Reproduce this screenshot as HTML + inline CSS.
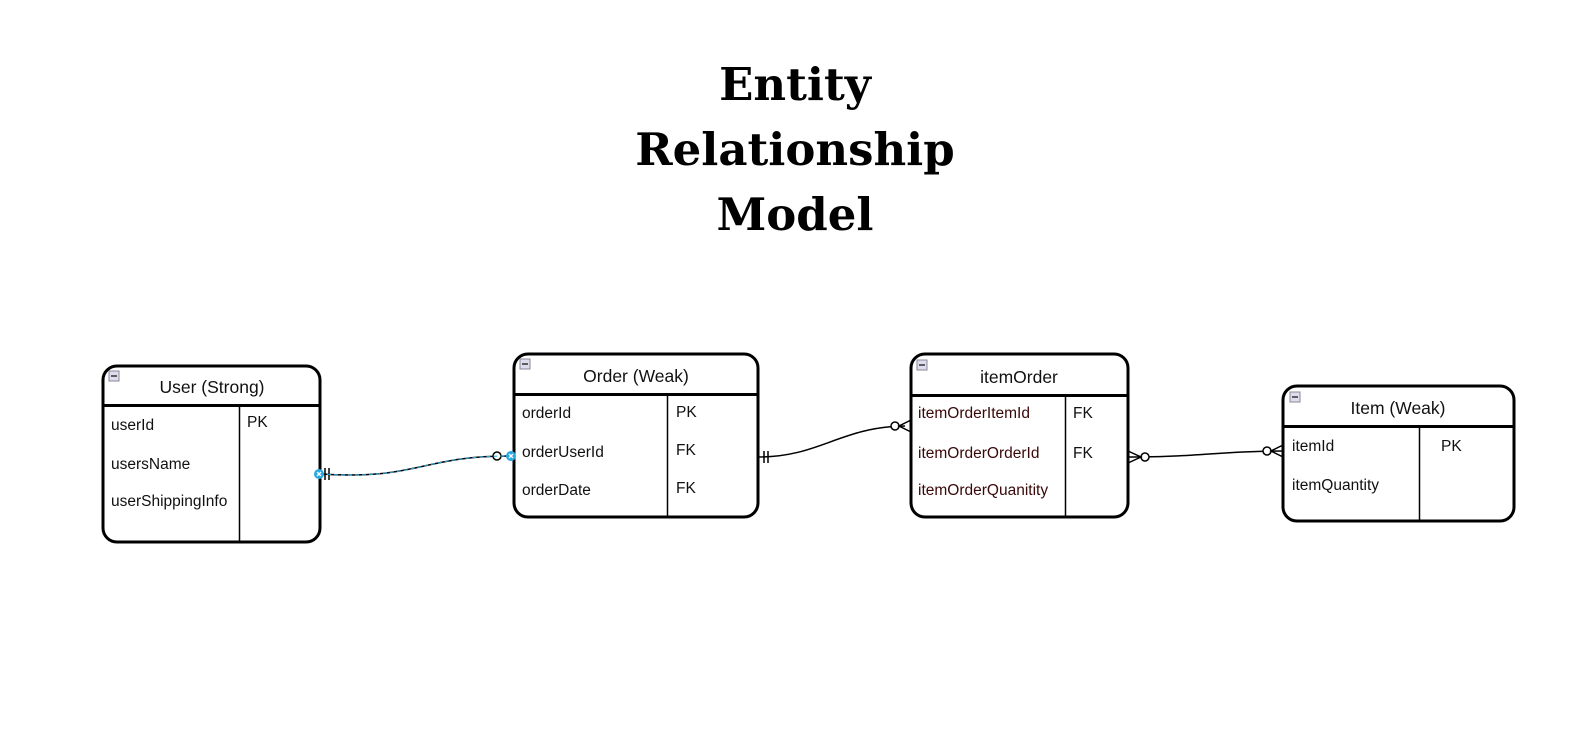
<!DOCTYPE html>
<html><head><meta charset="utf-8"><style>
html,body{margin:0;padding:0;background:#fff;}
svg{display:block}
text{font-family:"Liberation Sans",Arial,sans-serif;}
.t{font-family:"DejaVu Serif","Liberation Serif",serif;font-weight:bold;font-size:45px;fill:#000}
.h{font-size:17.5px;fill:#111}
.a{font-size:15.5px;fill:#111}
.r{font-size:15.5px;fill:#3a0808}
</style></head><body>
<svg width="1585" height="732" viewBox="0 0 1585 732" xmlns="http://www.w3.org/2000/svg">
<text class="t" x="795" y="100" text-anchor="middle">Entity</text>
<text class="t" x="795" y="165" text-anchor="middle">Relationship</text>
<text class="t" x="795" y="230" text-anchor="middle">Model</text>

<g fill="#fff" stroke="#000" stroke-width="3">
<rect x="103" y="366" width="217" height="176" rx="14"/>
<rect x="514" y="354" width="244" height="163" rx="14"/>
<rect x="911" y="354" width="217" height="163" rx="14"/>
<rect x="1283" y="386" width="231" height="135" rx="14"/>
</g>
<g stroke="#000" stroke-width="3">
<line x1="103" y1="405.5" x2="320" y2="405.5"/>
<line x1="514" y1="394.5" x2="758" y2="394.5"/>
<line x1="911" y1="395.5" x2="1128" y2="395.5"/>
<line x1="1283" y1="426.5" x2="1514" y2="426.5"/>
</g>
<g stroke="#000" stroke-width="1.5">
<line x1="239.5" y1="406" x2="239.5" y2="541"/>
<line x1="667.5" y1="395" x2="667.5" y2="516"/>
<line x1="1065.5" y1="396" x2="1065.5" y2="516"/>
<line x1="1419.5" y1="427" x2="1419.5" y2="520"/>
</g>
<g>
<rect x="109" y="371" width="10" height="10" fill="#dde" stroke="#889" stroke-width="1"/><line x1="111" y1="376" x2="117" y2="376" stroke="#333" stroke-width="1.5"/>
<rect x="520" y="359" width="10" height="10" fill="#dde" stroke="#889" stroke-width="1"/><line x1="522" y1="364" x2="528" y2="364" stroke="#333" stroke-width="1.5"/>
<rect x="917" y="360" width="10" height="10" fill="#dde" stroke="#889" stroke-width="1"/><line x1="919" y1="365" x2="925" y2="365" stroke="#333" stroke-width="1.5"/>
<rect x="1290" y="392" width="10" height="10" fill="#dde" stroke="#889" stroke-width="1"/><line x1="1292" y1="397" x2="1298" y2="397" stroke="#333" stroke-width="1.5"/>
</g>
<text class="h" x="212" y="393" text-anchor="middle">User (Strong)</text>
<text class="a" x="111" y="430">userId</text>
<text class="a" x="111" y="469">usersName</text>
<text class="a" x="111" y="506">userShippingInfo</text>
<text class="a" x="247" y="427">PK</text>

<text class="h" x="636" y="382" text-anchor="middle">Order (Weak)</text>
<text class="a" x="522" y="418">orderId</text>
<text class="a" x="522" y="457">orderUserId</text>
<text class="a" x="522" y="495">orderDate</text>
<text class="a" x="676" y="417">PK</text>
<text class="a" x="676" y="455">FK</text>
<text class="a" x="676" y="493">FK</text>

<text class="h" x="1019" y="383" text-anchor="middle">itemOrder</text>
<text class="r" x="918" y="418">itemOrderItemId</text>
<text class="r" x="918" y="458">itemOrderOrderId</text>
<text class="r" x="918" y="495">itemOrderQuanitity</text>
<text class="a" x="1073" y="418">FK</text>
<text class="a" x="1073" y="458">FK</text>

<text class="h" x="1398" y="414" text-anchor="middle">Item (Weak)</text>
<text class="a" x="1292" y="451">itemId</text>
<text class="a" x="1292" y="490">itemQuantity</text>
<text class="a" x="1441" y="451">PK</text>

<g fill="none" stroke="#000" stroke-width="1.5">
<path d="M320 474 C420 480 420 456 510 456"/>
<path d="M758 457 C820 457 840 427 905 426"/>
<path d="M1128 457 C1200 457 1220 451 1283 451"/>
<line x1="325" y1="468" x2="325" y2="480"/><line x1="329" y1="468" x2="329" y2="480"/>
<line x1="764" y1="451" x2="764" y2="463"/><line x1="768" y1="451" x2="768" y2="463"/>
<circle cx="895" cy="426" r="4" fill="#fff"/>
<path d="M911 420 L899 426 L911 432"/>
<circle cx="1145" cy="457" r="4" fill="#fff"/>
<path d="M1128 451 L1141 457 L1128 463"/>
<circle cx="1267" cy="451" r="4" fill="#fff"/>
<path d="M1283 445 L1271 451 L1283 457"/>
<circle cx="497" cy="456" r="4" fill="#fff"/>
</g>
<path d="M320 474 C420 480 420 456 510 456" fill="none" stroke="#29a8e0" stroke-width="1" stroke-dasharray="4 3"/>
<circle cx="319" cy="474" r="5" fill="#29a8e0"/>
<circle cx="511" cy="456" r="5" fill="#29a8e0"/>
<g stroke="#fff" stroke-width="1.3">
<line x1="317" y1="472" x2="321" y2="476"/><line x1="321" y1="472" x2="317" y2="476"/>
<line x1="509" y1="454" x2="513" y2="458"/><line x1="513" y1="454" x2="509" y2="458"/>
</g>
</svg>
</body></html>
